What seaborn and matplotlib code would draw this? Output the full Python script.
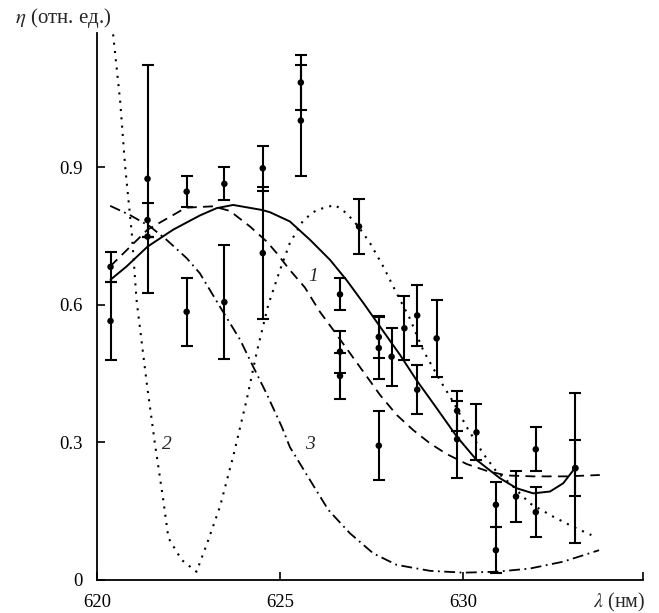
import numpy as np
import pandas as pd
import matplotlib
matplotlib.use("Agg")
import matplotlib.pyplot as plt
import seaborn as sns

# experimental points: wavelength, eta, error
pt_x = [620.37, 620.37, 621.38, 621.38, 621.38, 622.45, 622.45, 623.48, 623.48,
        624.53, 624.53, 625.57, 625.57, 627.16, 626.64, 626.64, 626.64, 627.70,
        627.70, 627.70, 628.05, 628.40, 628.75, 628.75, 629.28, 629.84, 629.84,
        630.37, 630.90, 630.90, 631.45, 631.99, 631.99, 633.07, 633.07]
pt_y = [0.683, 0.565, 0.875, 0.785, 0.749, 0.847, 0.585, 0.864, 0.606,
        0.898, 0.713, 1.085, 1.002, 0.771, 0.623, 0.498, 0.445, 0.530,
        0.506, 0.293, 0.487, 0.549, 0.577, 0.415, 0.527, 0.369, 0.307,
        0.322, 0.164, 0.065, 0.182, 0.285, 0.148, 0.244, 0.244]
pt_err = [0.033, 0.085, 0.249, 0.037, 0.0, 0.034, 0.074, 0.036, 0.125,
          0.049, 0.144, 0.061, 0.121, 0.059, 0.035, 0.046, 0.050, 0.045,
          0.068, 0.075, 0.063, 0.070, 0.067, 0.053, 0.084, 0.043, 0.084,
          0.061, 0.049, 0.050, 0.056, 0.048, 0.055, 0.164, 0.061]

# curve 1 (solid)
c1_x = [620.37, 620.81, 621.38, 622.08, 622.81, 623.27, 623.72, 624.51, 624.73,
        625.27, 625.82, 626.37, 626.82, 627.28, 627.73, 628.28, 628.73, 629.19,
        629.83, 630.37, 631.01, 631.47, 631.92, 632.38, 632.74, 633.06]
c1_y = [0.655, 0.684, 0.727, 0.764, 0.795, 0.811, 0.818, 0.807, 0.802,
        0.782, 0.742, 0.698, 0.654, 0.604, 0.553, 0.491, 0.436, 0.385,
        0.313, 0.262, 0.222, 0.200, 0.189, 0.193, 0.211, 0.244]

# dashed curve
cd_x = [620.36, 621.38, 622.43, 623.17, 623.63, 624.18, 624.64, 624.91, 625.27,
        625.68, 626.09, 626.46, 626.91, 627.37, 627.73, 628.19, 628.64, 629.10,
        629.55, 630.10, 630.65, 631.19, 631.92, 632.83, 633.74]
cd_y = [0.684, 0.764, 0.812, 0.815, 0.805, 0.771, 0.738, 0.713, 0.676,
        0.638, 0.585, 0.545, 0.495, 0.444, 0.404, 0.360, 0.327, 0.298,
        0.275, 0.253, 0.238, 0.228, 0.226, 0.226, 0.229]

# curve 2 (dotted)
c2_x = [620.44, 620.63, 620.77, 620.95, 621.08, 621.36, 621.58, 621.81, 621.95,
        622.31, 622.72, 623.04, 623.36, 623.72, 624.09, 624.36, 624.68, 625.00,
        625.27, 625.64, 626.00, 626.50, 626.82, 627.14, 627.46, 627.82, 628.19,
        628.55, 628.92, 629.37, 629.73, 630.10, 630.55, 630.92, 631.28, 631.83,
        632.47, 633.01, 633.51]
c2_y = [1.19, 1.047, 0.901, 0.757, 0.611, 0.429, 0.299, 0.175, 0.092,
        0.044, 0.018, 0.087, 0.160, 0.269, 0.393, 0.495, 0.600, 0.676,
        0.735, 0.785, 0.807, 0.818, 0.800, 0.771, 0.735, 0.684, 0.625,
        0.570, 0.500, 0.436, 0.389, 0.334, 0.276, 0.236, 0.211, 0.167,
        0.138, 0.116, 0.098]

# curve 3 (dash-dot)
c3_x = [620.36, 620.90, 621.45, 621.90, 622.45, 622.81, 623.36, 623.91, 624.27,
        624.63, 625.05, 625.27, 625.82, 626.32, 626.91, 627.55, 628.19, 629.10,
        630.01, 630.92, 631.83, 632.74, 633.72]
c3_y = [0.816, 0.796, 0.771, 0.742, 0.702, 0.669, 0.596, 0.524, 0.465,
        0.407, 0.334, 0.290, 0.218, 0.153, 0.102, 0.058, 0.033, 0.020,
        0.016, 0.018, 0.025, 0.040, 0.065]

sns.set_style("ticks")
plt.rcParams['font.family'] = ['Liberation Serif', 'DejaVu Serif']
plt.rcParams['mathtext.fontset'] = 'stix'

fig = plt.figure(figsize=(6.59, 6.13), dpi=100)
ax = fig.add_axes([97/659, 1 - 580/613, 546/659, 547/613])

sns.lineplot(x=c1_x, y=c1_y, ax=ax, color="black", lw=1.4, sort=False, estimator=None)
sns.lineplot(x=cd_x, y=cd_y, ax=ax, color="black", lw=1.3, sort=False, estimator=None,
             linestyle=(0, (5.5, 3.5)))
sns.lineplot(x=c2_x, y=c2_y, ax=ax, color="black", lw=1.5, sort=False, estimator=None,
             linestyle=(0, (1, 3)))
sns.lineplot(x=c3_x, y=c3_y, ax=ax, color="black", lw=1.3, sort=False, estimator=None,
             linestyle=(0, (6, 2.5, 1, 2.5)))

ax.errorbar(pt_x, pt_y, yerr=pt_err, fmt="none", ecolor="black", elinewidth=1.5,
            capsize=4, capthick=1.5)
sns.scatterplot(x=pt_x, y=pt_y, ax=ax, color="black", s=22, edgecolor="none", zorder=5)

xmax = 634.92
ax.set_xlim(620, xmax)
ax.set_ylim(0, 1.193)
ax.set_xticks([620, 625, 630, xmax])
ax.set_xticklabels(["620", "625", "630", ""])
ax.set_yticks([0, 0.3, 0.6, 0.9])
ax.set_yticklabels(["0", "0.3", "0.6", "0.9"])
ax.tick_params(direction="in", length=6, width=1.2, labelsize=13.5, pad=10, colors="black")
sns.despine(ax=ax)
for s in ["left", "bottom"]:
    ax.spines[s].set_linewidth(1.3)
    ax.spines[s].set_color("black")

ax.text(-0.15, 1.027, "$\\eta$ (отн. ед.)", transform=ax.transAxes, fontsize=15,
        ha="left", va="center")
ax.text(1.004, -0.042, "$\\lambda$ (нм)", transform=ax.transAxes, fontsize=14.5,
        ha="right", va="center")

ax.text(625.90, 0.661, "1", fontsize=14, style="italic", ha="center", va="center")
ax.text(621.91, 0.295, "2", fontsize=14, style="italic", ha="center", va="center")
ax.text(625.82, 0.295, "3", fontsize=14, style="italic", ha="center", va="center")

plt.savefig("out.png", dpi=100)
plt.close()
